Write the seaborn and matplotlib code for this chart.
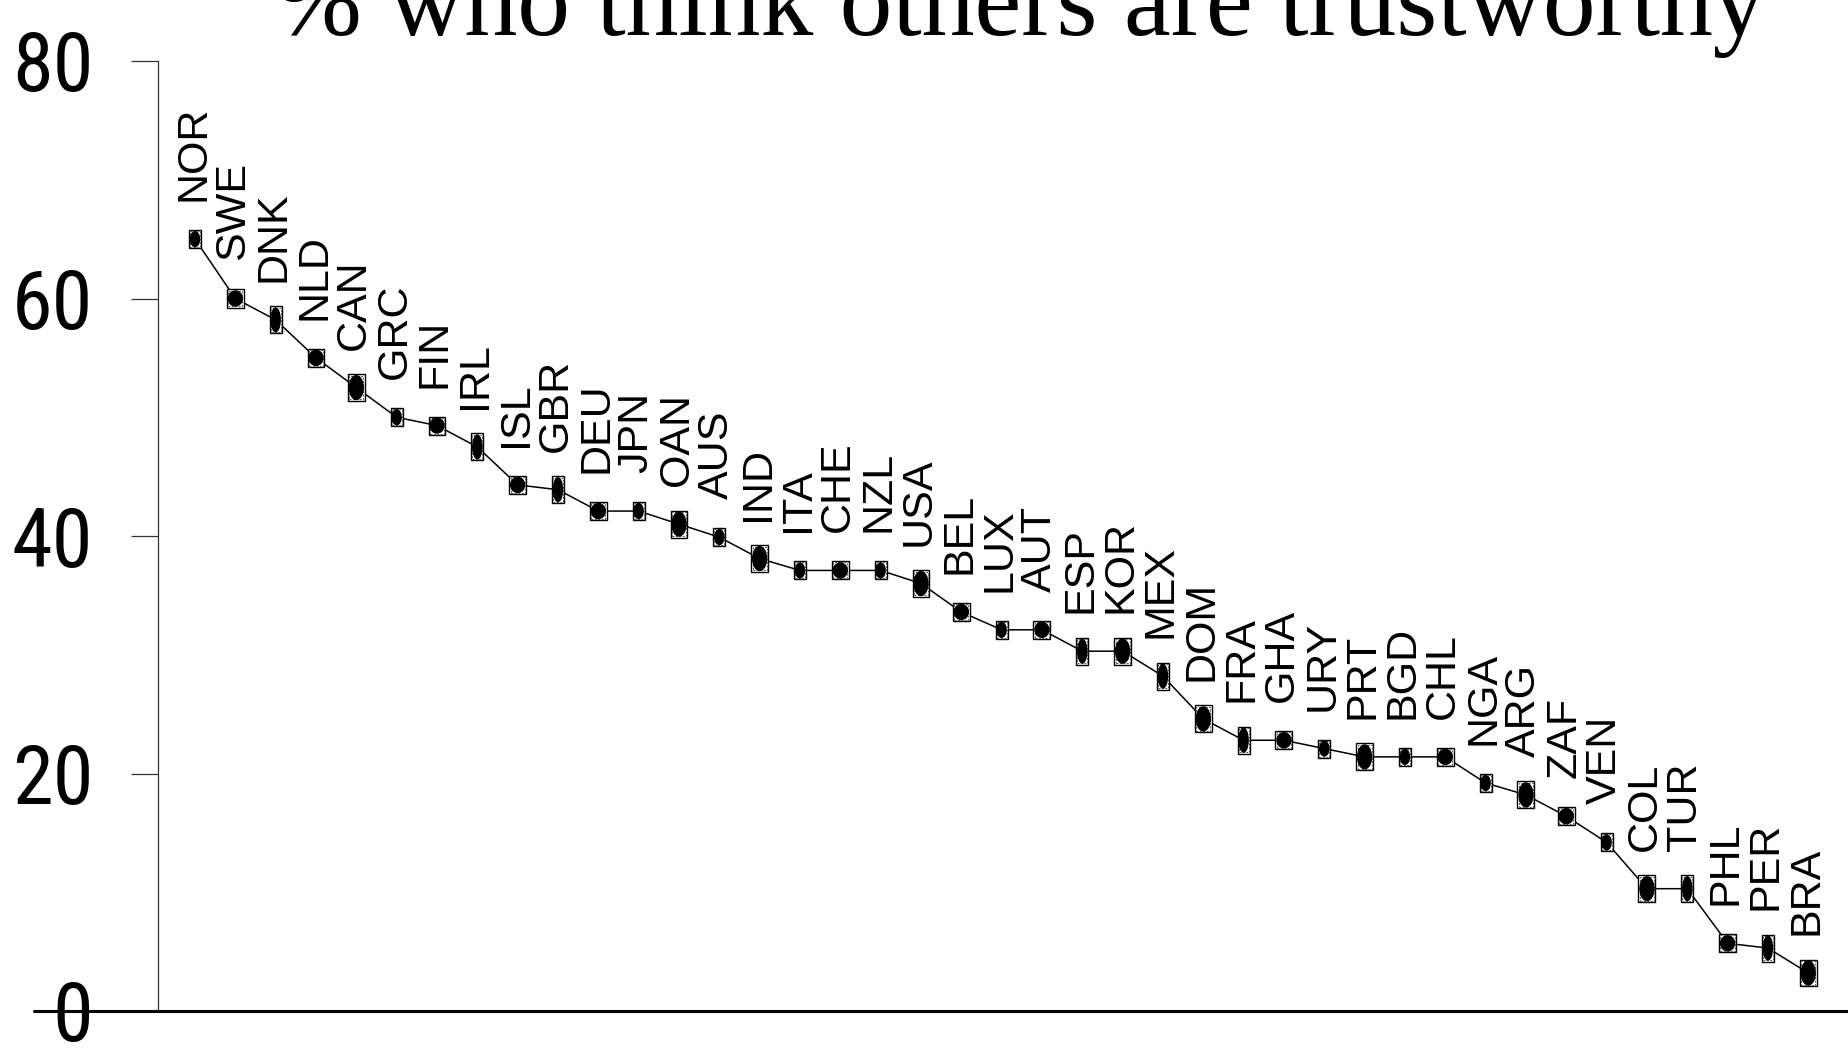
import numpy as np
import pandas as pd
import matplotlib
matplotlib.use("Agg")
import matplotlib.pyplot as plt
from matplotlib.patches import Ellipse, Rectangle
from matplotlib import font_manager as fm
from matplotlib.textpath import TextPath
import seaborn as sns

# ---------------- data ----------------
countries = ["NOR", "SWE", "DNK", "NLD", "CAN", "GRC", "FIN", "IRL", "ISL", "GBR",
             "DEU", "JPN", "OAN", "AUS", "IND", "ITA", "CHE", "NZL", "USA", "BEL",
             "LUX", "AUT", "ESP", "KOR", "MEX", "DOM", "FRA", "GHA", "URY", "PRT",
             "BGD", "CHL", "NGA", "ARG", "ZAF", "VEN", "COL", "TUR", "PHL", "PER", "BRA"]
trust = [65.0, 60.0, 58.2, 55.0, 52.5, 50.0, 49.3, 47.5, 44.3, 43.9,
         42.1, 42.1, 41.0, 39.9, 38.1, 37.1, 37.1, 37.1, 36.0, 33.6,
         32.1, 32.1, 30.3, 30.3, 28.2, 24.6, 22.8, 22.8, 22.1, 21.4,
         21.4, 21.4, 19.2, 18.2, 16.4, 14.2, 10.3, 10.3, 5.7, 5.3, 3.2]
# relative sample size class (1 = smaller, 2 = larger)
sample_class = [1, 2, 1, 2, 2, 1, 2, 1, 2, 1,
                2, 1, 2, 1, 2, 1, 2, 1, 2, 2,
                1, 2, 1, 2, 1, 2, 1, 2, 1, 2,
                1, 2, 1, 2, 2, 1, 2, 1, 2, 1, 2]
# uncertainty class (1 = narrow interval, 2 = wide interval)
ci_class = [1, 1, 2, 1, 2, 1, 1, 2, 1, 2,
            1, 1, 2, 1, 2, 1, 1, 1, 2, 1,
            1, 1, 2, 2, 2, 2, 2, 1, 1, 2,
            1, 1, 1, 2, 1, 1, 2, 2, 1, 2, 2]
yticks = [0, 20, 40, 60, 80]
title = "% who think others are trustworthy"

# ---------------- style ----------------
sns.set_theme(style="white")
plt.rcParams["font.family"] = ["Liberation Sans", "DejaVu Sans"]

# pick the narrowest available sans font for the tall tick numbers
available = {f.name for f in fm.fontManager.ttflist}
tick_font = "Liberation Sans"
for cand in ["Liberation Sans Narrow", "Arial Narrow", "Roboto Condensed",
             "Open Sans Condensed", "Noto Sans Condensed", "DejaVu Sans Condensed"]:
    if cand in available:
        tick_font = cand
        break
_ext = TextPath((0, 0), "80", size=100,
                prop=fm.FontProperties(family=tick_font)).get_extents()
# target: about 72 px wide and at most 70 px tall (dpi 100 -> 1 pt = 1.389 px)
tick_size = min(100 * (72 / 1.389) / _ext.width, 100 * (70 / 1.389) / _ext.height)

W, H = 1849, 1054
fig = plt.figure(figsize=(W / 100, H / 100), dpi=100)
ax_left, ax_bottom = 157.7 / W, (H - 1011) / H
ax = fig.add_axes([ax_left, ax_bottom, 1 - ax_left, 950 / H])

df = pd.DataFrame({"idx": np.arange(len(countries)), "trust": trust,
                   "country": countries, "size": sample_class, "ci": ci_class})

sns.lineplot(data=df, x="idx", y="trust", color="black", linewidth=1.1,
             sort=False, ax=ax, zorder=2)

ax.set_xlim(-0.925, 41.01)
ax.set_ylim(0, 80)

# marker geometry (in data units of this axes)
ell_w = {1: 0.26, 2: 0.38}
sq_w = {1: 0.30, 2: 0.42}
ell_h = {1: 1.38, 2: 2.12}
sq_h = {1: 1.52, 2: 2.27}

for _, r in df.iterrows():
    x, y = r["idx"], r["trust"]
    sw, sh = sq_w[r["size"]], sq_h[r["ci"]]
    ax.add_patch(Rectangle((x - sw / 2, y - sh / 2), sw, sh, facecolor="white",
                           edgecolor="black", linewidth=1.0, zorder=3))
    iw, ih = sw * 0.84, sh * 0.88
    ax.add_patch(Rectangle((x - iw / 2, y - ih / 2), iw, ih, facecolor="none",
                           edgecolor="#555555", linewidth=0.7, linestyle=(0, (2, 1.5)),
                           zorder=3.5))
    ax.add_patch(Ellipse((x, y), ell_w[r["size"]], ell_h[r["ci"]],
                         facecolor="black", edgecolor="none", zorder=4))
    ax.annotate(r["country"], (x, y), xytext=(-2, 38), textcoords="offset pixels",
                rotation=90, ha="center", va="bottom", fontsize=31,
                family=["Liberation Sans", "DejaVu Sans"], color="black",
                annotation_clip=False)

# axes styling
for s in ["top", "right", "bottom"]:
    ax.spines[s].set_visible(False)
ax.spines["left"].set_color("#333333")
ax.spines["left"].set_linewidth(0.9)
ax.set_xticks([])
ax.set_yticks(yticks)
ax.set_yticklabels([str(t) for t in yticks],
                   fontfamily=[tick_font, "Liberation Sans", "DejaVu Sans"],
                   fontsize=tick_size)
ax.tick_params(axis="y", length=19.4, width=0.9, color="#333333", pad=27,
               left=True, labelcolor="black")
ax.set_xlabel("")
ax.set_ylabel("")
ax.grid(False)

# horizontal baseline extending beyond the axis
ax.plot([-0.0731, 1.0], [0, 0], transform=ax.get_yaxis_transform(),
        color="black", linewidth=2.2, clip_on=False, zorder=6)

fig.text(1020 / W, 1 - 35 / H, title, ha="center", va="baseline", fontsize=76,
         family=["Liberation Serif", "DejaVu Serif"], color="black")

fig.savefig("out.png", dpi=100)
